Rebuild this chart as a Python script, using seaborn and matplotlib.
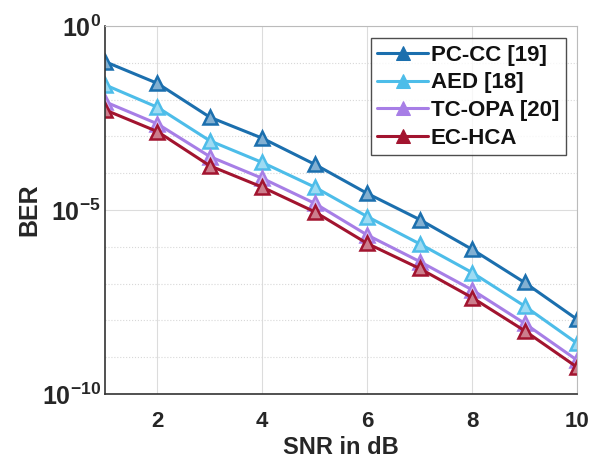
import numpy as np
import pandas as pd
import matplotlib
matplotlib.use("Agg")
import matplotlib.pyplot as plt
import matplotlib.colors as mcolors
import seaborn as sns
from matplotlib.ticker import NullFormatter

snr = [1, 2, 3, 4, 5, 6, 7, 8, 9, 10]
ber_pccc = [10**-0.97, 10**-1.56, 10**-2.48, 10**-3.05, 10**-3.76, 10**-4.55, 10**-5.26, 10**-6.07, 10**-6.97, 10**-7.97]
ber_aed = [10**-1.60, 10**-2.21, 10**-3.12, 10**-3.71, 10**-4.38, 10**-5.18, 10**-5.92, 10**-6.70, 10**-7.61, 10**-8.62]
ber_tcopa = [10**-2.06, 10**-2.66, 10**-3.55, 10**-4.14, 10**-4.82, 10**-5.68, 10**-6.40, 10**-7.17, 10**-8.08, 10**-9.08]
ber_echca = [10**-2.28, 10**-2.87, 10**-3.80, 10**-4.38, 10**-5.05, 10**-5.91, 10**-6.59, 10**-7.38, 10**-8.28, 10**-9.27]
labels = ["PC-CC [19]", "AED [18]", "TC-OPA [20]", "EC-HCA"]
colors = ["#1b6fae", "#4dbde9", "#a77ee6", "#a2142f"]

df = pd.concat([
    pd.DataFrame({"SNR": snr, "BER": v, "Scheme": lab})
    for v, lab in zip([ber_pccc, ber_aed, ber_tcopa, ber_echca], labels)
])

sns.set_style("white")
plt.rcParams["font.family"] = ["Liberation Sans", "DejaVu Sans"]
plt.rcParams["mathtext.fontset"] = "custom"
plt.rcParams["mathtext.rm"] = "Liberation Sans"
plt.rcParams["mathtext.bf"] = "Liberation Sans:bold"

fig = plt.figure(figsize=(5.93, 4.63), dpi=100)
ax = fig.add_axes([0.177, 0.149, 0.796, 0.795])

sns.lineplot(data=df, x="SNR", y="BER", hue="Scheme", hue_order=labels,
             palette=colors, marker="^", markersize=10, linewidth=2.2,
             ax=ax, dashes=False)

def lighten(c, f=0.45):
    r, g, b = mcolors.to_rgb(c)
    return (r + (1 - r) * f, g + (1 - g) * f, b + (1 - b) * f)

for line, c in zip(ax.get_lines()[:4], colors):
    line.set_markeredgecolor(c)
    line.set_markerfacecolor(lighten(c))
    line.set_markeredgewidth(1.8)

ax.set_yscale("log")
ax.set_xlim(1, 10)
ax.set_ylim(1e-10, 1)
ax.set_xticks([2, 4, 6, 8, 10])
ax.set_yticks([1e-10, 1e-5, 1])
ax.set_yticklabels([r"$\mathbf{10^{-10}}$", r"$\mathbf{10^{-5}}$", r"$\mathbf{10^{0}}$"])
ax.set_yticks([10.0**k for k in range(-9, 0) if k != -5], minor=True)
ax.yaxis.set_minor_formatter(NullFormatter())

ax.grid(True, which="major", axis="both", color="#dcdcdc", linewidth=0.8, linestyle="-")
ax.grid(True, which="minor", axis="y", color="#d8d8d8", linewidth=0.8, linestyle=":")
ax.set_axisbelow(True)

ax.tick_params(axis="both", which="major", labelsize=16, direction="in", length=4,
               colors="#333333", labelcolor="#262626")
ax.tick_params(axis="y", which="major", labelsize=18, pad=3)
ax.tick_params(axis="y", which="minor", direction="in", length=2, colors="#333333")
for lab in ax.get_xticklabels():
    lab.set_fontweight("bold")
ax.tick_params(axis="x", pad=12)

for side in ["left", "bottom"]:
    ax.spines[side].set_color("#333333")
    ax.spines[side].set_linewidth(1.2)
for side in ["top", "right"]:
    ax.spines[side].set_color("#bbbbbb")
    ax.spines[side].set_linewidth(0.8)

ax.set_xlabel("SNR in dB", fontsize=17, fontweight="bold", color="#262626", labelpad=3)
ax.set_ylabel("BER", fontsize=18, fontweight="bold", color="#262626", labelpad=0)

handles, _ = ax.get_legend_handles_labels()
leg = ax.legend(handles[:4], labels, loc="upper right", bbox_to_anchor=(0.976, 0.967), fontsize=16,
                frameon=True, fancybox=False, edgecolor="#222222",
                handlelength=2.3, handletextpad=0.1, borderpad=0.3,
                labelspacing=0.3, borderaxespad=0)
leg.get_frame().set_linewidth(1.0)
for t in leg.get_texts():
    t.set_fontweight("bold")
    t.set_color("#111111")
for h, c in zip(leg.legend_handles, colors):
    h.set_markeredgecolor(c)
    h.set_markerfacecolor(c)

fig.savefig("out.png", dpi=100)
